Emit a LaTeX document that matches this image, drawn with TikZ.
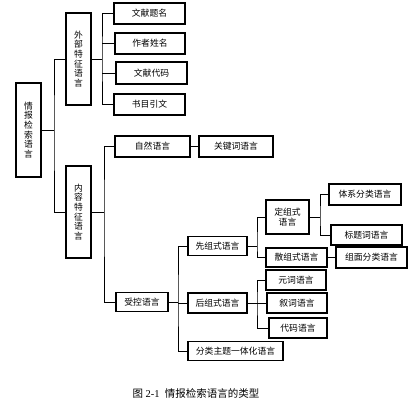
\documentclass[tikz,border=0pt]{standalone}
\usepackage{fontspec}
\setmainfont{Liberation Serif}
\newfontfamily\cjk{Noto Sans CJK SC}
\begin{document}
\begin{tikzpicture}[x=1pt,y=-1pt,
  box/.style={draw, line width=1.4pt, inner sep=0pt, align=center,
    font=\cjk\fontsize{8.8}{9.6}\selectfont},
  conn/.style={line width=1pt}]
\useasboundingbox (0,0) rectangle (415,410);
% nodes
\node[box, minimum width=25pt, minimum height=94pt] (root) at (28.5,130) {情\\报\\检\\索\\语\\言};
\node[box, minimum width=25pt, minimum height=92pt] (ext) at (78.5,59) {外\\部\\特\\征\\语\\言};
\node[box, minimum width=25pt, minimum height=92pt] (int) at (78.5,212) {内\\容\\特\\征\\语\\言};
\node[box, minimum width=71pt, minimum height=21pt] (t1) at (149.5,13.5) {文献题名};
\node[box, minimum width=70pt, minimum height=21pt] (t2) at (150,43.5) {作者姓名};
\node[box, minimum width=71pt, minimum height=22pt] (t3) at (151.5,73) {文献代码};
\node[box, minimum width=71pt, minimum height=21pt] (t4) at (149.5,104.5) {书目引文};
\node[box, minimum width=75pt, minimum height=21pt] (nat) at (152.5,146.5) {自然语言};
\node[box, minimum width=74pt, minimum height=21pt] (kw) at (236,146.5) {关键词语言};
\node[box, minimum width=52pt, minimum height=19pt] (ctl) at (142,302) {受控语言};
\node[box, minimum width=59pt, minimum height=19pt] (pre) at (217.5,246) {先组式语言};
\node[box, minimum width=59pt, minimum height=20pt] (post) at (217.5,303) {后组式语言};
\node[box, minimum width=95pt, minimum height=19pt] (cls) at (235.5,351) {分类主题一体化语言};
\node[box, minimum width=43pt, minimum height=34pt] (fix) at (287.5,217) {定组式\\语言};
\node[box, minimum width=61pt, minimum height=19pt] (sc) at (296.5,257.5) {散组式语言};
\node[box, minimum width=71pt, minimum height=21pt] (fm) at (371.5,257.5) {组面分类语言};
\node[box, minimum width=72pt, minimum height=21pt] (sys) at (365,194.5) {体系分类语言};
\node[box, minimum width=71pt, minimum height=20pt] (tt) at (366.5,235) {标题词语言};
\node[box, minimum width=60pt, minimum height=20pt] (yuan) at (296,280) {元词语言};
\node[box, minimum width=60pt, minimum height=20pt] (xu) at (297,303) {叙词语言};
\node[box, minimum width=58pt, minimum height=20pt] (dm) at (298,328) {代码语言};
\node[font=\fontsize{10.5}{12}\selectfont] (cap) at (196,393) {{\cjk 图} 2-1\ \ {\cjk 情报检索语言的类型}};
% junctions
\coordinate (j1) at (54,130);
\coordinate (j2) at (102,59);
\coordinate (j3) at (104,212);
\coordinate (j4) at (178,302);
\coordinate (j5) at (257,246);
\coordinate (j6) at (320,217);
\coordinate (j7) at (257,303);
% connectors
\draw[conn] (root.east) -- (j1);
\draw[conn] (ext.west) -| (j1) |- (int.west);
\draw[conn] (ext.east) -- (j2);
\draw[conn] (t1.west) -| (j2) |- (t4.west);
\draw[conn] (t2.west) -- (t2.west -| j2);
\draw[conn] (t3.west) -- (t3.west -| j2);
\draw[conn] (int.east) -- (j3);
\draw[conn] (nat.west) -| (j3) |- (ctl.west);
\draw[conn] (nat.east) -- (kw.west);
\draw[conn] (ctl.east) -- (j4);
\draw[conn] (pre.west) -| (j4) |- (cls.west);
\draw[conn] (post.west) -- (post.west -| j4);
\draw[conn] (pre.east) -- (j5);
\draw[conn] (fix.west) -| (j5) |- (sc.west);
\draw[conn] (sc.east) -- (fm.west);
\draw[conn] (fix.east) -- (j6);
\draw[conn] (sys.west) -| (j6) |- (tt.west);
\draw[conn] (post.east) -- (j7);
\draw[conn] (yuan.west) -| (j7) |- (dm.west);
\draw[conn] (xu.west) -- (xu.west -| j7);
\end{tikzpicture}
\end{document}
